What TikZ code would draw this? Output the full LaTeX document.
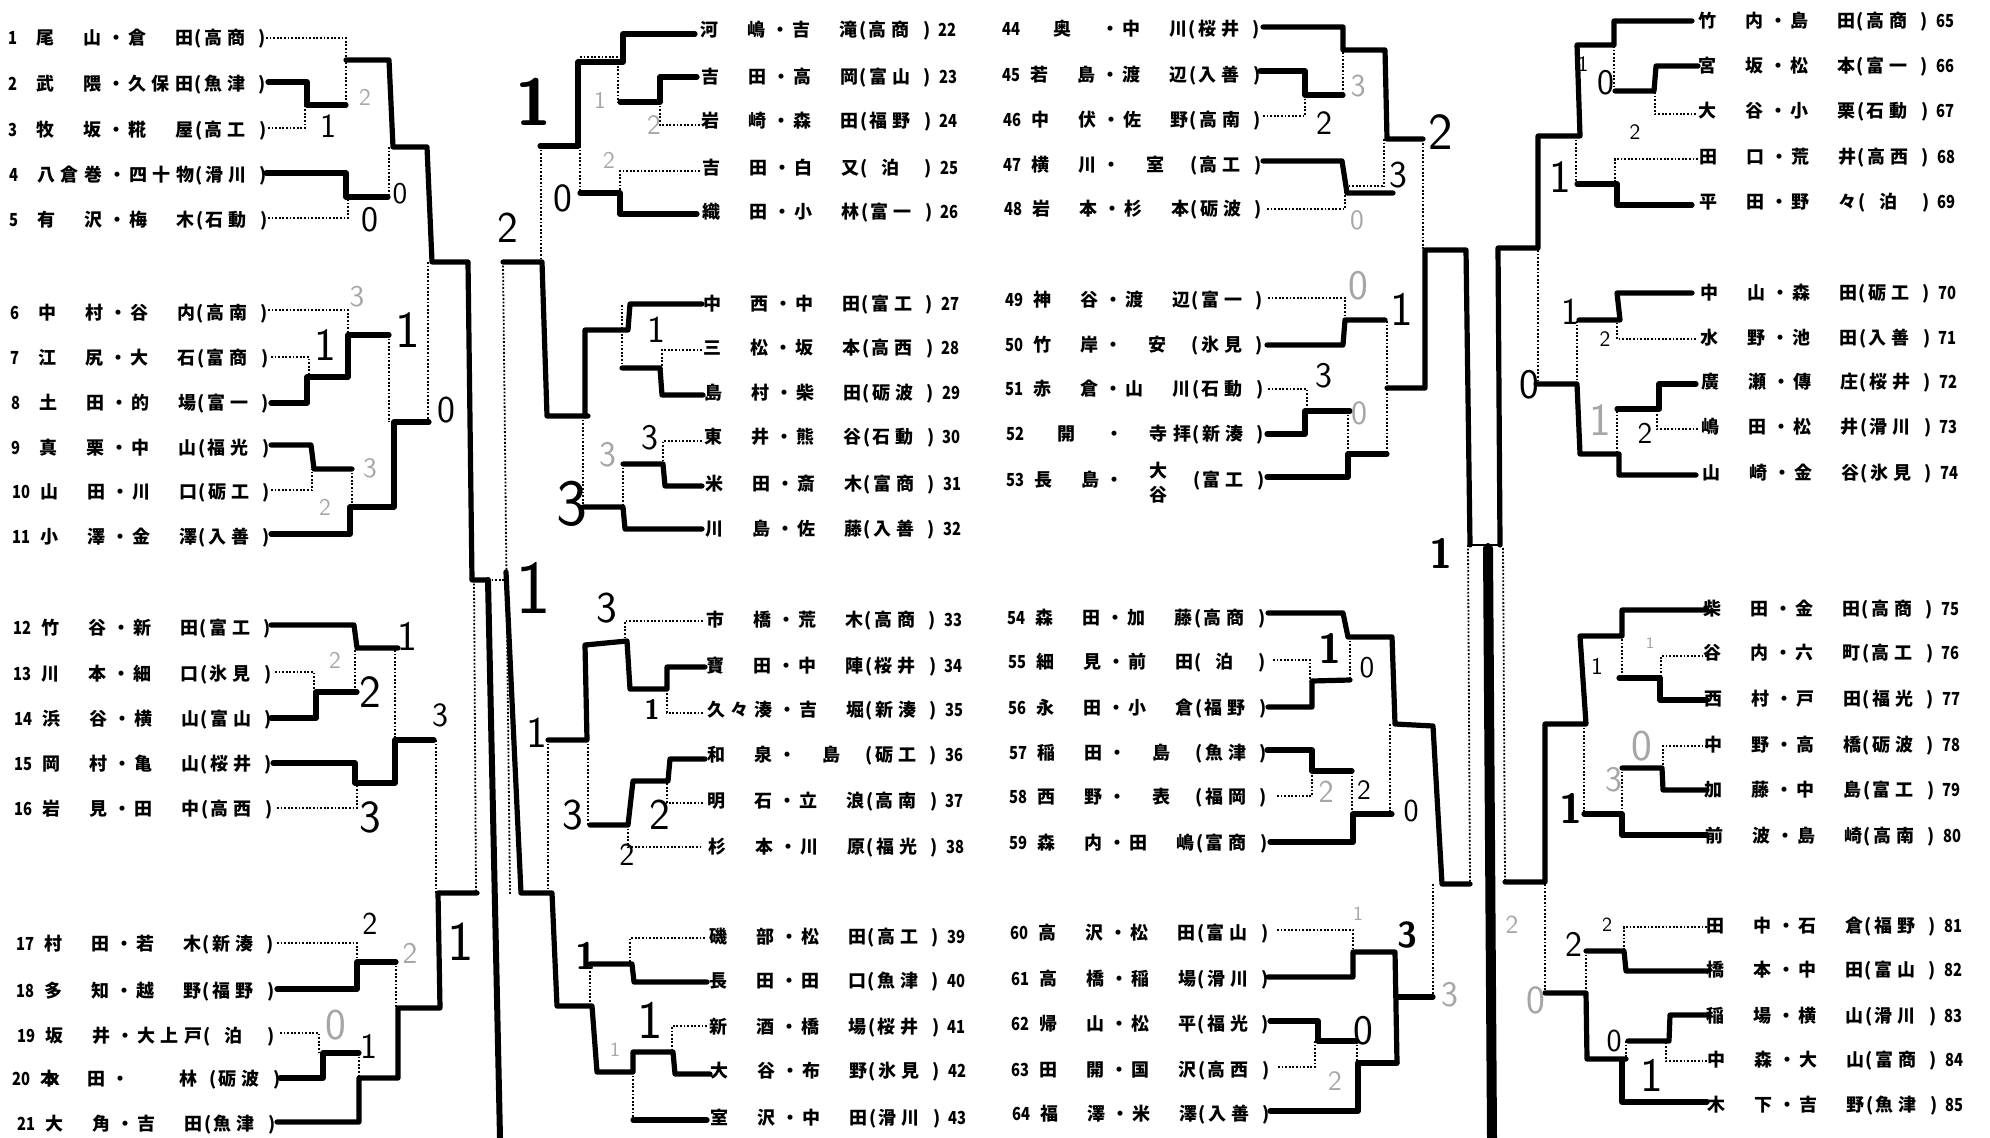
\documentclass[tikz,border=0pt]{standalone}
\usepackage{fontspec}
\usepackage{graphicx}
\newfontfamily\jp{Noto Sans CJK JP}
\newlength\pu \setlength\pu{0.5pt}
\newcommand\putc[2]{\makebox[0pt][l]{\hspace*{#1\pu}\makebox[0pt][c]{#2}}}
\newcommand\cellc[2]{\ifx x#2\else\putc{#1}{#2}\fi}
\newcommand\sixc[6]{\cellc{0}{#1}\cellc{23}{#2}\cellc{47}{#3}\putc{71}{・}\cellc{92}{#4}\cellc{115}{#5}\cellc{139}{#6}}
\newcommand\schl[2]{\putc{153}{(}\ifx x#2\putc{179.5}{#1}\else\putc{168}{#1}\putc{191}{#2}\fi\putc{217}{)}}
\newcommand\stkc[2]{\makebox[0pt]{\raisebox{4.5pt}{#1}}\makebox[0pt]{\raisebox{-7.5pt}{#2}}}
\newcommand\numL[1]{\makebox[0pt][l]{\hspace*{-37\pu}\scalebox{0.82}[1]{#1}}}
\newcommand\numR[1]{\makebox[0pt][l]{\hspace*{229\pu}\scalebox{0.82}[1]{#1}}}
\newcommand\EA[4]{\node[ent] (e#2) at ({44.7+0.009*#1},{#1+7}) {\numL{#2}\sixc#3\schl#4};}
\newcommand\EB[4]{\node[ent] (e#2) at ({709.7+0.009*#1},{#1+7}) {\sixc#3\schl#4\numR{#2}};}
\newcommand\EC[4]{\node[ent] (e#2) at ({1039.3+0.009*#1},{#1+7}) {\numL{#2}\sixc#3\schl#4};}
\newcommand\ED[4]{\node[ent] (e#2) at ({1706.8+0.009*#1},{#1+7}) {\sixc#3\schl#4\numR{#2}};}
\newcount\hwn
\newcommand\hw[5]{\global\advance\hwn by 1\relax\node[hw,font=\sffamily#5\fontsize{#3}{#3}\selectfont] (h\the\hwn) at (#1,#2) {#4};}
\newcommand\fnt{\color{black!35}}
\begin{document}
\begin{tikzpicture}[x=0.5pt,y=-0.5pt,
  ent/.style={inner sep=0pt,anchor=base,font=\jp\bfseries\fontsize{9pt}{9pt}\selectfont},
  hw/.style={inner sep=0pt,anchor=center},
  thk/.style={line width=2.6pt,line cap=round,line join=round},
  thn/.style={line width=1pt},
  big/.style={line width=3pt,line cap=round},
  bigr/.style={line width=5pt,line cap=round},
  dt/.style={line width=0.9pt,dash pattern=on 0.9pt off 0.9pt}]
\useasboundingbox (0,0) rectangle (1990,1138);
\fill[white] (0,0) rectangle (1990,1138);
% ---------------- entries ----------------
\EA{38}{1}{尾x山倉x田}{高商}
\EA{84}{2}{武x隈久保田}{魚津}
\EA{130}{3}{牧x坂糀x屋}{高工}
\EA{175}{4}{八倉巻四十物}{滑川}
\EA{220}{5}{有x沢梅x木}{石動}
\EA{313}{6}{中x村谷x内}{高南}
\EA{358}{7}{江x尻大x石}{富商}
\EA{403}{8}{土x田的x場}{富一}
\EA{448}{9}{真x栗中x山}{福光}
\EA{492}{10}{山x田川x口}{砺工}
\EA{537}{11}{小x澤金x澤}{入善}
\EA{627}{12}{竹x谷新x田}{富工}
\EA{673}{13}{川x本細x口}{氷見}
\EA{718}{14}{浜x谷横x山}{富山}
\EA{763}{15}{岡x村亀x山}{桜井}
\EA{808}{16}{岩x見田x中}{高西}
\EA{943}{17}{村x田若x木}{新湊}
\EA{990}{18}{多x知越x野}{福野}
\EA{1035}{19}{坂x井大上戸}{泊x}
\EA{1078}{20}{本x田xx林x}{砺波}
\EA{1123}{21}{大x角吉x田}{魚津}
\EB{30}{22}{河x嶋吉x滝}{高商}
\EB{77}{23}{吉x田高x岡}{富山}
\EB{121}{24}{岩x崎森x田}{福野}
\EB{168}{25}{吉x田白x又}{泊x}
\EB{212}{26}{織x田小x林}{富一}
\EB{304}{27}{中x西中x田}{富工}
\EB{348}{28}{三x松坂x本}{高西}
\EB{393}{29}{島x村柴x田}{砺波}
\EB{437}{30}{東x井熊x谷}{石動}
\EB{484}{31}{米x田斎x木}{富商}
\EB{529}{32}{川x島佐x藤}{入善}
\EB{619}{33}{市x橋荒x木}{高商}
\EB{665}{34}{寶x田中x陣}{桜井}
\EB{709}{35}{久々湊吉x堀}{新湊}
\EB{754}{36}{和x泉x島x}{砺工}
\EB{800}{37}{明x石立x浪}{高南}
\EB{846}{38}{杉x本川x原}{福光}
\EB{936}{39}{磯x部松x田}{高工}
\EB{980}{40}{長x田田x口}{魚津}
\EB{1026}{41}{新x酒橋x場}{桜井}
\EB{1070}{42}{大x谷布x野}{氷見}
\EB{1117}{43}{室x沢中x田}{滑川}
\EC{29}{44}{x奥x中x川}{桜井}
\EC{75}{45}{若x島渡x辺}{入善}
\EC{120}{46}{中x伏佐x野}{高南}
\EC{165}{47}{横x川x室x}{高工}
\EC{209}{48}{岩x本杉x本}{砺波}
\EC{300}{49}{神x谷渡x辺}{富一}
\EC{345}{50}{竹x岸x安x}{氷見}
\EC{389}{51}{赤x倉山x川}{石動}
\EC{434}{52}{x開xx寺拝}{新湊}
\EC{480}{53}{長x島x{\stkc{大}{谷}}x}{富工}
\EC{617}{54}{森x田加x藤}{高商}
\EC{661}{55}{細x見前x田}{泊x}
\EC{707}{56}{永x田小x倉}{福野}
\EC{752}{57}{稲x田x島x}{魚津}
\EC{796}{58}{西x野x表x}{福岡}
\EC{842}{59}{森x内田x嶋}{富商}
\EC{932}{60}{高x沢松x田}{富山}
\EC{978}{61}{高x橋稲x場}{滑川}
\EC{1023}{62}{帰x山松x平}{福光}
\EC{1069}{63}{田x開国x沢}{高西}
\EC{1113}{64}{福x澤米x澤}{入善}
\ED{21}{65}{竹x内島x田}{高商}
\ED{66}{66}{宮x坂松x本}{富一}
\ED{111}{67}{大x谷小x栗}{石動}
\ED{157}{68}{田x口荒x井}{高西}
\ED{202}{69}{平x田野x々}{泊x}
\ED{293}{70}{中x山森x田}{砺工}
\ED{338}{71}{水x野池x田}{入善}
\ED{382}{72}{廣x瀬傳x庄}{桜井}
\ED{427}{73}{嶋x田松x井}{滑川}
\ED{473}{74}{山x崎金x谷}{氷見}
\ED{608}{75}{柴x田金x田}{高商}
\ED{652}{76}{谷x内六x町}{高工}
\ED{698}{77}{西x村戸x田}{福光}
\ED{744}{78}{中x野高x橋}{砺波}
\ED{789}{79}{加x藤中x島}{富工}
\ED{835}{80}{前x波島x崎}{高南}
\ED{925}{81}{田x中石x倉}{福野}
\ED{969}{82}{橋x本中x田}{富山}
\ED{1015}{83}{稲x場横x山}{滑川}
\ED{1059}{84}{中x森大x山}{富商}
\ED{1104}{85}{木x下吉x野}{魚津}
% ---------------- left column bracket ----------------
\draw[dt] (266,38)--(346,38)--(346,105);
\draw[thk] (268,82)--(307,82)--(307,105)--(346,105);
\draw[dt] (268,128)--(305,128)--(305,105);
\draw[thk] (346,60)--(389,60)--(393,147)--(427,147)--(432,262)--(468,262)--(472,580)--(488,580);
\draw[thk] (266,173)--(346,173)--(346,197)--(388,197);
\draw[dt] (268,218)--(348,218)--(348,197);
\draw[dt] (389,147)--(389,197);
\draw[dt] (428,262)--(428,422);
\draw[dt] (268,310)--(348,310)--(348,335);
\draw[dt] (271,357)--(309,357)--(309,377);
\draw[thk] (271,403)--(307,403)--(307,377)--(348,377)--(348,335)--(389,335);
\draw[dt] (389,335)--(389,422);
\draw[thk] (271,445)--(311,445)--(314,469)--(352,469);
\draw[dt] (271,490)--(312,490)--(312,469);
\draw[dt] (352,469)--(352,507);
\draw[thk] (271,534)--(350,534)--(350,507)--(394,507)--(394,422)--(429,422);
\draw[thk] (271,625)--(354,625)--(357,648)--(398,648);
\draw[dt] (275,672)--(314,672)--(314,692);
\draw[thk] (271,718)--(316,718)--(316,692)--(357,692);
\draw[dt] (355,650)--(355,692);
\draw[dt] (395,650)--(395,740);
\draw[thk] (273,763)--(355,763)--(355,783)--(395,783)--(395,740)--(434,740);
\draw[dt] (277,808)--(357,808)--(357,785);
\draw[dt] (436,740)--(436,893);
\draw[dt] (277,943)--(357,943)--(357,962);
\draw[thk] (277,989)--(357,989)--(357,962)--(396,962);
\draw[dt] (396,962)--(396,1008);
\draw[dt] (280,1033)--(319,1033)--(319,1053);
\draw[thk] (280,1078)--(323,1078)--(323,1053)--(359,1053);
\draw[dt] (359,1053)--(359,1078);
\draw[thk] (277,1122)--(359,1122)--(359,1078)--(398,1078)--(398,1008)--(440,1008)--(438,893)--(477,893);
\draw[dt] (474,580)--(476,893);
\draw[big] (488,580)--(500,1138);
\draw[dt] (488,580)--(507,580);
\draw[dt] (503,262)--(510,894);
% ---------------- middle-left bracket ----------------
\draw[thk] (503,262)--(542,262)--(547,416)--(588,416);
\draw[dt] (541,146)--(541,262);
\draw[thk] (540,146)--(578,146)--(578,62)--(623,62)--(623,34)--(695,34);
\draw[dt] (580,57)--(618,57)--(618,102);
\draw[thk] (620,102)--(660,102)--(660,77)--(697,77);
\draw[dt] (700,125)--(660,125)--(660,102);
\draw[dt] (580,146)--(580,193);
\draw[dt] (700,171)--(620,171)--(620,193);
\draw[thk] (580,193)--(620,193)--(620,214)--(697,214);
\draw[thk] (585,416)--(585,330)--(628,330)--(630,304)--(702,304);
\draw[dt] (622,305)--(622,368);
\draw[dt] (702,350)--(662,350)--(662,368);
\draw[thk] (622,368)--(660,368)--(662,395)--(703,395);
\draw[dt] (583,416)--(583,507);
\draw[dt] (702,441)--(663,441)--(663,464);
\draw[thk] (623,464)--(663,464)--(665,486)--(702,486);
\draw[dt] (623,464)--(623,507);
\draw[thk] (583,507)--(623,507)--(625,529)--(702,529);
\draw[thk] (506,572)--(521,893)--(552,893)--(557,1006)--(592,1006)--(597,1072)--(633,1072)--(633,1052)--(673,1052)--(675,1074)--(710,1074);
\draw[dt] (548,740)--(548,893);
\draw[thk] (548,740)--(587,740)--(585,645)--(627,641)--(630,689)--(667,689)--(667,667)--(705,667);
\draw[dt] (703,621)--(625,621)--(625,641);
\draw[dt] (703,713)--(667,713)--(667,689);
\draw[dt] (588,740)--(588,825);
\draw[thk] (590,825)--(628,825)--(633,781)--(668,781)--(670,759)--(705,759);
\draw[dt] (703,803)--(667,803)--(667,781);
\draw[dt] (628,825)--(628,847)--(703,847);
\draw[dt] (705,938)--(630,938)--(630,964);
\draw[thk] (590,964)--(632,964)--(634,982)--(707,982);
\draw[dt] (590,964)--(590,1006);
\draw[dt] (707,1026)--(672,1026)--(672,1052);
\draw[dt] (633,1072)--(633,1120);
\draw[thk] (633,1120)--(707,1120);
% ---------------- middle-right bracket ----------------
\draw[thk] (1263,27)--(1343,27)--(1343,50)--(1385,50)--(1387,139)--(1423,139);
\draw[thk] (1260,71)--(1305,71)--(1305,95)--(1343,95);
\draw[dt] (1263,116)--(1305,116)--(1305,95);
\draw[dt] (1343,52)--(1343,95);
\draw[dt] (1384,139)--(1384,186);
\draw[thk] (1263,161)--(1342,161)--(1347,193)--(1393,193);
\draw[dt] (1345,186)--(1384,186);
\draw[dt] (1267,209)--(1345,209)--(1345,186);
\draw[dt] (1423,143)--(1423,250);
\draw[thk] (1387,388)--(1425,388)--(1425,250)--(1466,250)--(1470,545);
\draw[dt] (1268,298)--(1345,298)--(1345,320);
\draw[thk] (1267,345)--(1343,345)--(1345,320)--(1385,320);
\draw[dt] (1387,321)--(1387,454);
\draw[dt] (1268,389)--(1307,389)--(1307,411);
\draw[thk] (1267,434)--(1305,434)--(1305,411)--(1350,411);
\draw[dt] (1348,411)--(1348,454);
\draw[thk] (1267,477)--(1348,477)--(1348,454)--(1387,454);
\draw[thk] (1268,613)--(1343,613)--(1348,637)--(1392,637)--(1395,724)--(1433,726)--(1442,884)--(1470,884);
\draw[dt] (1273,660)--(1310,660)--(1310,682);
\draw[thk] (1268,707)--(1312,707)--(1312,681)--(1350,680);
\draw[dt] (1350,637)--(1350,680);
\draw[dt] (1390,724)--(1390,814);
\draw[thk] (1267,750)--(1312,750)--(1312,771)--(1352,771);
\draw[dt] (1277,796)--(1312,796)--(1312,772);
\draw[dt] (1352,772)--(1352,814);
\draw[thk] (1270,842)--(1353,842)--(1353,814)--(1392,814);
\draw[dt] (1433,884)--(1433,997);
\draw[dt] (1277,930)--(1353,930)--(1353,952);
\draw[thk] (1268,977)--(1353,977)--(1353,952)--(1395,952)--(1397,1063);
\draw[thk] (1396,997)--(1433,997);
\draw[thk] (1270,1021)--(1318,1021)--(1318,1041)--(1357,1041);
\draw[dt] (1278,1067)--(1315,1067)--(1315,1041);
\draw[dt] (1357,1041)--(1357,1063);
\draw[thk] (1270,1111)--(1358,1111)--(1358,1063)--(1397,1063);
\draw[dt] (1468,545)--(1470,884);
\draw[thn] (1470,545)--(1500,545);
\draw[bigr] (1488,548)--(1492,1138);
% ---------------- right column bracket ----------------
\draw[thk] (1692,21)--(1614,21)--(1614,45)--(1577,45)--(1580,136)--(1538,136)--(1538,248)--(1498,248)--(1500,545);
\draw[dt] (1614,46)--(1614,91);
\draw[thk] (1698,66)--(1656,66)--(1654,91)--(1615,91);
\draw[dt] (1696,114)--(1655,114)--(1655,91);
\draw[dt] (1576,136)--(1576,184);
\draw[dt] (1698,159)--(1615,159)--(1615,184);
\draw[thk] (1692,205)--(1617,205)--(1617,184)--(1577,184);
\draw[dt] (1538,250)--(1538,384);
\draw[thk] (1692,293)--(1617,293)--(1620,320)--(1579,320);
\draw[dt] (1696,339)--(1617,339)--(1617,321);
\draw[dt] (1577,321)--(1577,384);
\draw[thk] (1536,384)--(1577,384)--(1580,454)--(1619,454)--(1619,475)--(1696,475);
\draw[thk] (1696,384)--(1659,384)--(1659,409)--(1617,409);
\draw[dt] (1698,429)--(1657,429)--(1657,409);
\draw[dt] (1617,411)--(1617,454);
\draw[thk] (1707,610)--(1622,610)--(1622,636)--(1580,636)--(1586,724)--(1545,724)--(1545,882)--(1505,882);
\draw[dt] (1707,656)--(1661,656)--(1661,678);
\draw[thk] (1707,700)--(1660,700)--(1660,678)--(1619,678);
\draw[dt] (1622,639)--(1622,678);
\draw[dt] (1584,724)--(1584,814);
\draw[dt] (1707,746)--(1663,746)--(1663,768);
\draw[thk] (1707,790)--(1663,790)--(1662,768)--(1622,768);
\draw[dt] (1622,768)--(1622,814);
\draw[thk] (1707,835)--(1622,835)--(1622,814)--(1584,814);
\draw[dt] (1545,884)--(1545,995);
\draw[dt] (1707,927)--(1624,927)--(1624,951);
\draw[thk] (1707,971)--(1626,971)--(1624,951)--(1586,951);
\draw[dt] (1586,951)--(1586,991);
\draw[thk] (1545,993)--(1586,993)--(1587,1059)--(1626,1059);
\draw[thk] (1707,1015)--(1670,1015)--(1669,1041)--(1628,1041);
\draw[dt] (1707,1061)--(1666,1061)--(1666,1041);
\draw[dt] (1626,1041)--(1626,1061);
\draw[thk] (1707,1102)--(1622,1102)--(1622,1061);
\draw[dt] (1503,548)--(1505,882);
% ---------------- handwritten scores ----------------
\hw{365}{97}{12}{2}{\fnt}
\hw{328}{126}{17}{1}{}
\hw{400}{194}{15}{0}{}
\hw{370}{220}{18}{0}{}
\hw{357}{297}{15}{3}{\fnt}
\hw{325}{345}{23}{1}{}
\hw{408}{330}{26}{1}{}
\hw{446}{410}{19}{0}{}
\hw{370}{468}{14}{3}{\fnt}
\hw{325}{507}{12}{2}{\fnt}
\hw{407}{636}{21}{1}{}
\hw{335}{660}{12}{2}{\fnt}
\hw{370}{692}{23}{2}{}
\hw{440}{715}{17}{3}{}
\hw{370}{817}{23}{3}{}
\hw{370}{924}{16}{2}{}
\hw{410}{953}{15}{2}{\fnt}
\hw{461}{942}{28}{1}{}
\hw{369}{1046}{18}{1}{}
\hw{336}{1025}{22}{0}{\fnt}
\hw{534}{102}{33}{1}{\bfseries}
\hw{508}{228}{22}{2}{}
\hw{563}{198}{20}{0}{}
\hw{600}{100}{12}{1}{\fnt}
\hw{654}{125}{14}{2}{\fnt}
\hw{609}{160}{12}{2}{\fnt}
\hw{656}{330}{19}{1}{}
\hw{572}{504}{33}{3}{}
\hw{608}{455}{18}{3}{\fnt}
\hw{650}{438}{18}{3}{}
\hw{533}{588}{38}{1}{}
\hw{537}{733}{22}{1}{}
\hw{607}{608}{22}{3}{}
\hw{652}{709}{14}{1}{\bfseries}
\hw{573}{815}{22}{3}{}
\hw{660}{815}{22}{2}{}
\hw{627}{855}{16}{2}{}
\hw{586}{956}{19}{1}{\bfseries}
\hw{650}{1020}{27}{1}{}
\hw{615}{1050}{10}{1}{\fnt}
\hw{1358}{86}{16}{3}{\fnt}
\hw{1324}{123}{17}{2}{}
\hw{1398}{175}{19}{3}{}
\hw{1357}{220}{14}{0}{\fnt}
\hw{1441}{132}{26}{2}{}
\hw{1358}{286}{21}{0}{\fnt}
\hw{1402}{309}{24}{1}{}
\hw{1324}{376}{18}{3}{}
\hw{1359}{413}{17}{0}{\fnt}
\hw{1441}{553}{21}{1}{\bfseries}
\hw{1330}{648}{21}{1}{\bfseries}
\hw{1367}{668}{15}{0}{}
\hw{1326}{792}{16}{2}{\fnt}
\hw{1364}{790}{14}{2}{}
\hw{1411}{811}{16}{0}{}
\hw{1358}{914}{10}{1}{\fnt}
\hw{1407}{935}{18}{3}{\bfseries}
\hw{1450}{995}{18}{3}{\fnt}
\hw{1363}{1031}{21}{0}{}
\hw{1335}{1081}{14}{2}{\fnt}
\hw{1583}{64}{11}{1}{}
\hw{1606}{83}{18}{0}{}
\hw{1635}{132}{11}{2}{}
\hw{1560}{177}{23}{1}{}
\hw{1570}{312}{19}{1}{}
\hw{1605}{339}{11}{2}{}
\hw{1529}{385}{21}{0}{}
\hw{1600}{420}{23}{1}{\fnt}
\hw{1645}{433}{15}{2}{}
\hw{1597}{666}{12}{1}{}
\hw{1650}{643}{8}{1}{\fnt}
\hw{1642}{746}{22}{0}{\fnt}
\hw{1614}{780}{18}{3}{\fnt}
\hw{1571}{808}{21}{1}{\bfseries}
\hw{1574}{944}{18}{2}{}
\hw{1607}{925}{10}{2}{}
\hw{1512}{925}{13}{2}{\fnt}
\hw{1536}{1000}{20}{0}{\fnt}
\hw{1614}{1041}{16}{0}{}
\hw{1652}{1075}{24}{1}{}
\end{tikzpicture}
\end{document}
